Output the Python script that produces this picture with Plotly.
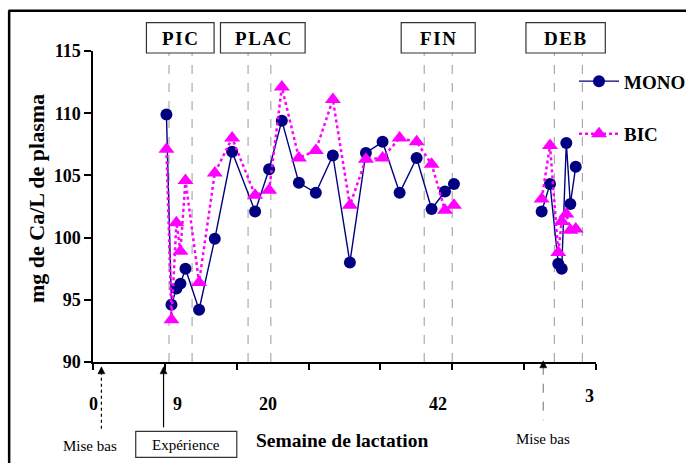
import plotly.graph_objects as go

W, H = 686, 463
L, R, T, B = 93.3, 596.0, 50.7, 361.7   # plot area in pixels

# ---------------- data ----------------
# x positions along the axis (tick spacing = 1 unit)
x_pos = [1.022, 1.092, 1.161, 1.217, 1.287, 1.476, 1.695, 1.936, 2.256, 2.451,
         2.628, 2.865, 3.101, 3.338, 3.575, 3.798, 4.030, 4.267, 4.504, 4.712,
         4.898, 5.023, None, 6.244, 6.360, 6.475, 6.523, 6.587, 6.643, 6.718]
mono = [109.9, 94.6, 95.9, 96.3, 97.5, 94.2, 99.9, 106.9, 102.1, 105.5,
        109.4, 104.4, 103.6, 106.6, 98.0, 106.8, 107.7, 103.6, 106.4, 102.3,
        103.7, 104.3, None, 102.1, 104.3, 97.9, 97.5, 107.6, 102.7, 105.7]
bic = [107.1, 93.4, 101.2, 98.9, 104.6, 96.4, 105.2, 108.0, 103.4, 103.8,
       112.1, 106.4, 107.0, 111.1, 102.6, 106.3, 106.4, 108.0, 107.7, 105.9,
       102.2, 102.6, None, 103.1, 107.4, 98.8, 101.3, 101.9, 100.6, 100.7]

phase_names = ["PIC", "PLAC", "FIN", "DEB"]
phase_bounds = [(1.058, 1.379), (2.158, 2.475), (4.609, 4.999), (6.420, 6.810)]
phase_box_px = [(146.7, 214.3), (220.7, 305.3), (401.3, 475.3), (526.0, 605.3)]

xtick_labels = ["0", "9", "20", "42", "3"]
xtick_label_pos = [0.0, 1.173, 2.43, 4.803, 6.91]
ytick_vals = [90, 95, 100, 105, 110, 115]

NAVY = "#000080"
MAG = "#FF00FF"
SERIF = "Liberation Serif"


def px_x(px):
    return (px - L) / (R - L)


def px_y(py):
    return (B - py) / (B - T)


fig = go.Figure()
fig.add_trace(go.Scatter(
    x=x_pos, y=mono, name="MONO", mode="lines+markers", legendgroup="a",
    line=dict(color=NAVY, width=1.4),
    marker=dict(symbol="circle", size=12, color=NAVY)))
fig.add_trace(go.Scatter(
    x=x_pos, y=bic, name="BIC", mode="lines+markers", legendgroup="b",
    line=dict(color=MAG, width=2.5, dash="dot"),
    marker=dict(symbol="triangle-up", size=14, color=MAG)))

shapes = []
annotations = []

# phase dashed gray lines
for (a, b) in phase_bounds:
    for xv in (a, b):
        shapes.append(dict(type="line", xref="x", yref="paper", x0=xv, x1=xv,
                           y0=0, y1=px_y(52.7), layer="below",
                           line=dict(color="#9a9a9a", width=1, dash="dash")))

# phase boxes
for name, (bx0, bx1) in zip(phase_names, phase_box_px):
    shapes.append(dict(type="rect", xref="paper", yref="paper",
                       x0=px_x(bx0), x1=px_x(bx1), y0=px_y(52.7), y1=px_y(22.3),
                       line=dict(color="#333333", width=1.2), fillcolor="white"))
    annotations.append(dict(xref="paper", yref="paper", x=px_x((bx0 + bx1) / 2),
                            y=px_y(38), text="\u200a".join(name), showarrow=False,
                            xanchor="center", yanchor="middle",
                            font=dict(family=SERIF, size=19, color="black", weight="bold")))

# outer frame (top and left)
shapes.append(dict(type="line", xref="paper", yref="paper", x0=px_x(9), x1=px_x(690),
                   y0=px_y(10.5), y1=px_y(10.5), line=dict(color="black", width=2.5)))
shapes.append(dict(type="line", xref="paper", yref="paper", x0=px_x(9.5), x1=px_x(9.5),
                   y0=px_y(10), y1=px_y(470), line=dict(color="black", width=2.5)))

# x tick labels
for lab, xv in zip(xtick_labels, xtick_label_pos):
    yy = 396 if lab == "3" else 404
    annotations.append(dict(xref="x", yref="paper", x=xv, y=px_y(yy), text=lab,
                            showarrow=False, xanchor="center", yanchor="middle",
                            font=dict(family=SERIF, size=18, color="black", weight="bold")))

# arrows
def arrow(px, y_top, y_bot, dash, color):
    shapes.append(dict(type="line", xref="paper", yref="paper", x0=px_x(px), x1=px_x(px),
                       y0=px_y(y_top + 5), y1=px_y(y_bot), line=dict(color=color, width=1.2, dash=dash)))
    path = "M {} {} L {} {} L {} {} Z".format(
        px_x(px), px_y(y_top), px_x(px - 3.5), px_y(y_top + 7), px_x(px + 3.5), px_y(y_top + 7))
    shapes.append(dict(type="path", xref="paper", yref="paper", path=path,
                       fillcolor="black", line=dict(color="black", width=0.5)))

arrow(101.7, 366.5, 430, "dot", "black")
arrow(163.8, 366.5, 427, "solid", "black")
arrow(543.3, 360.5, 420, "dash", "#888888")

# bottom texts
annotations.append(dict(xref="paper", yref="paper", x=px_x(90), y=px_y(446), text="Mise bas",
                        showarrow=False, xanchor="center", yanchor="middle",
                        font=dict(family=SERIF, size=15, color="black")))
annotations.append(dict(xref="paper", yref="paper", x=px_x(543), y=px_y(439), text="Mise bas",
                        showarrow=False, xanchor="center", yanchor="middle",
                        font=dict(family=SERIF, size=15, color="black")))
shapes.append(dict(type="rect", xref="paper", yref="paper", x0=px_x(136), x1=px_x(237),
                   y0=px_y(457), y1=px_y(431), line=dict(color="#333333", width=1.2)))
annotations.append(dict(xref="paper", yref="paper", x=px_x(186.5), y=px_y(445), text="Expérience",
                        showarrow=False, xanchor="center", yanchor="middle",
                        font=dict(family=SERIF, size=15, color="black")))
annotations.append(dict(xref="paper", yref="paper", x=px_x(342), y=px_y(440),
                        text="Semaine de lactation", showarrow=False,
                        xanchor="center", yanchor="middle",
                        font=dict(family=SERIF, size=19.5, color="black", weight="bold")))
# y title
annotations.append(dict(xref="paper", yref="paper", x=px_x(37), y=px_y(198),
                        text="mg de Ca/L de plasma", textangle=-90, showarrow=False,
                        xanchor="center", yanchor="middle",
                        font=dict(family=SERIF, size=22, color="black", weight="bold")))

fig.update_layout(
    width=W, height=H, autosize=False,
    margin=dict(l=L, r=W - R, t=T, b=H - B, pad=0, autoexpand=False),
    paper_bgcolor="white", plot_bgcolor="white",
    showlegend=True,
    legend=dict(x=px_x(574), y=px_y(62), xanchor="left", yanchor="top",
                bgcolor="rgba(0,0,0,0)", borderwidth=0, tracegroupgap=25,
                font=dict(family=SERIF, size=19, color="black", weight="bold"),
                itemwidth=40),
    xaxis=dict(range=[0, 7], tickvals=list(range(8)), ticktext=[""] * 8,
               showgrid=False, zeroline=False, showline=True, linecolor="black",
               linewidth=1.5, ticks="outside", ticklen=6, tickcolor="black", tickwidth=1.5),
    yaxis=dict(range=[90, 115], tickvals=ytick_vals, showgrid=False, zeroline=False,
               showline=True, linecolor="black", linewidth=1.5, ticks="outside",
               ticklen=7, tickcolor="black", tickwidth=1.5,
               tickfont=dict(family=SERIF, size=18, color="black", weight="bold")),
    shapes=shapes, annotations=annotations,
)

fig.write_html("out.html", config={"displayModeBar": False},
               post_script="document.body.style.margin='0';document.body.style.overflow='hidden';")
